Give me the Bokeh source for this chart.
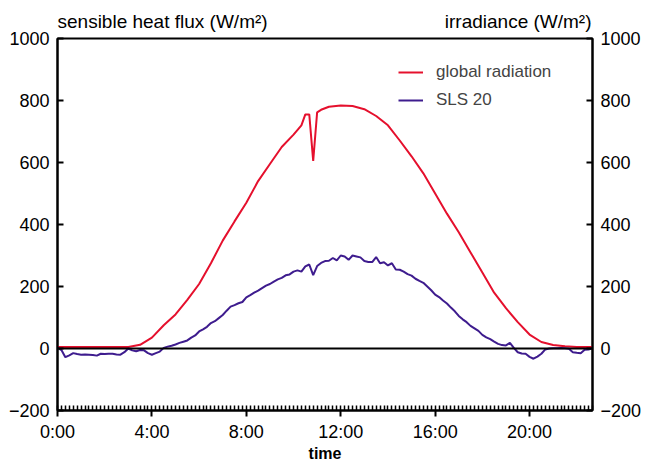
from bokeh.plotting import figure
from bokeh.models import (Range1d, LinearAxis, FixedTicker, Span,
                          Legend, LegendItem, ColumnDataSource)
from bokeh.embed import file_html
from bokeh.resources import INLINE

# ---------------- data ----------------
# global radiation (W/m2), time in minutes since midnight
red_minutes = [0, 60, 120, 180, 210, 240, 270, 300, 330, 360, 390, 420, 450, 480,
               510, 540, 570, 600, 620, 630, 640, 650, 660, 670, 690, 720, 750, 780,
               810, 840, 870, 900, 930, 960, 990, 1020, 1050, 1080, 1110, 1140, 1170,
               1200, 1230, 1260, 1290, 1320, 1360]
red_values = [5, 5, 5, 5, 12, 35, 75, 110, 157, 208, 275, 348, 410, 470,
              540, 595, 650, 690, 720, 755, 755, 605, 762, 770, 780, 784, 782, 772,
              750, 720, 671, 620, 565, 500, 435, 375, 310, 245, 180, 130, 85,
              45, 21, 11, 7, 5, 5]

# SLS 20 sensible heat flux (W/m2), 10-minute values from 0:00 to 22:40
sls_minutes = list(range(0, 1370, 10))
sls_values = [3, -5, -28, -22, -15, -18, -20, -19, -20, -21,
              -23, -17, -18, -17, -17, -19, -20, -12, 0, -6,
              -9, -5, -6, -15, -20, -15, -10, 2, 6, 9,
              13, 18, 22, 26, 35, 42, 55, 62, 70, 82,
              88, 98, 108, 122, 135, 140, 146, 150, 165, 172,
              180, 187, 195, 203, 208, 216, 223, 228, 236, 239,
              248, 252, 248, 265, 271, 237, 266, 276, 282, 283,
              292, 284, 300, 297, 286, 300, 297, 294, 282, 279,
              279, 295, 275, 278, 268, 275, 255, 254, 248, 240,
              235, 225, 218, 212, 200, 188, 174, 166, 155, 145,
              132, 120, 105, 94, 85, 73, 65, 57, 44, 36,
              30, 22, 15, 11, 10, 18, 2, -12, -16, -17,
              -27, -33, -26, -17, -3, 0, 1, 1, 2, 1,
              -1, -12, -14, -15, -4, -3, 1]

x_tick_hours = [0, 4, 8, 12, 16, 20]
x_tick_labels = ["0:00", "4:00", "8:00", "12:00", "16:00", "20:00"]
y_ticks = [-200, 0, 200, 400, 600, 800, 1000]

left_title = "sensible heat flux (W/m²)"
right_title = "irradiance (W/m²)"
x_title = "time"
series_names = ["global radiation", "SLS 20"]
RED = "#e5102d"
PURPLE = "#3e1c8e"
FONT = "Liberation Sans"

red_src = ColumnDataSource(dict(t=[m / 60 for m in red_minutes], v=red_values))
sls_src = ColumnDataSource(dict(t=[m / 60 for m in sls_minutes], v=sls_values))

W, H = 645, 464
x_end = sls_minutes[-1] / 60
p = figure(width=W, height=H, output_backend="svg", toolbar_location=None,
           x_range=Range1d(0, x_end), y_range=Range1d(-200, 1000),
           min_border_left=57, min_border_right=53, min_border_top=38,
           min_border_bottom=54)
p.extra_y_ranges = {"right": Range1d(-200, 1000)}
p.xgrid.visible = False
p.ygrid.visible = False
p.outline_line_color = "black"
p.outline_line_width = 2
p.outline_line_alpha = 1
p.background_fill_color = "white"
p.border_fill_color = "white"

# x axis
xa = p.xaxis[0]
xa.ticker = FixedTicker(ticks=x_tick_hours,
                        minor_ticks=[m / 60 for m in range(0, 1370, 10)])
xa.major_label_overrides = {h: s for h, s in zip(x_tick_hours, x_tick_labels)}
xa.major_tick_out = 6
xa.major_tick_in = 0
xa.minor_tick_in = 5
xa.minor_tick_out = 0
xa.major_label_standoff = 5
xa.axis_line_width = 2
xa.major_tick_line_width = 2
xa.minor_tick_line_width = 1.5
xa.major_label_text_font = FONT
xa.major_label_text_font_size = "18px"
xa.major_label_text_color = "black"
xa.axis_label = x_title
xa.axis_label_text_font = FONT
xa.axis_label_text_font_style = "bold"
xa.axis_label_text_font_size = "16px"
xa.axis_label_standoff = 0
xa.axis_label_text_color = "black"

# left and right axes
ya = p.yaxis[0]
ya.ticker = FixedTicker(ticks=y_ticks)
ra = LinearAxis(y_range_name="right", ticker=FixedTicker(ticks=y_ticks))
p.add_layout(ra, "right")
for ax in [ya, ra]:
    ax.major_tick_in = 6
    ax.major_tick_out = 0
    ax.minor_tick_line_color = None
    ax.axis_line_width = 2
    ax.major_tick_line_width = 2
    ax.major_label_text_font = FONT
    ax.major_label_text_font_size = "18px"
    ax.major_label_text_color = "black"
    ax.major_label_standoff = 8

# titles of the two y axes, drawn as labels of an invisible axis above the frame
px_per_h = (W - 57 - 53) / x_end
fs = 19
left_w = 11.06 * fs     # approx. text widths in px (Liberation Sans metrics)
right_w = 7.72 * fs
pos_left = (left_w / 2) / px_per_h
pos_right = x_end - (right_w / 2 + 1) / px_per_h
ta = LinearAxis(ticker=FixedTicker(ticks=[pos_left, pos_right], minor_ticks=[]))
ta.major_label_overrides = {pos_left: left_title, pos_right: right_title}
ta.axis_line_color = None
ta.major_tick_line_color = None
ta.minor_tick_line_color = None
ta.major_tick_out = 0
ta.major_tick_in = 0
ta.minor_tick_out = 0
ta.minor_tick_in = 0
ta.axis_label_standoff = 0
ta.axis_label_text_font_size = "0px"
ta.major_label_text_font = FONT
ta.major_label_text_font_size = f"{fs}px"
ta.major_label_text_color = "black"
ta.major_label_standoff = 7
p.add_layout(ta, "above")

# zero line
p.add_layout(Span(location=0, dimension="width", line_color="black", line_width=2))

r1 = p.line("t", "v", source=red_src, line_color=RED, line_width=2)
r2 = p.line("t", "v", source=sls_src, line_color=PURPLE, line_width=2)

legend = Legend(items=[LegendItem(label=series_names[0], renderers=[r1]),
                       LegendItem(label=series_names[1], renderers=[r2])],
                location=(341, 300), glyph_width=25, glyph_height=20,
                label_standoff=13, spacing=8, padding=0, margin=0,
                border_line_alpha=0, background_fill_alpha=0,
                label_text_font=FONT, label_text_font_size="17px",
                label_text_baseline="middle")
p.add_layout(legend)

open("out.html", "w").write(file_html(p, INLINE))
